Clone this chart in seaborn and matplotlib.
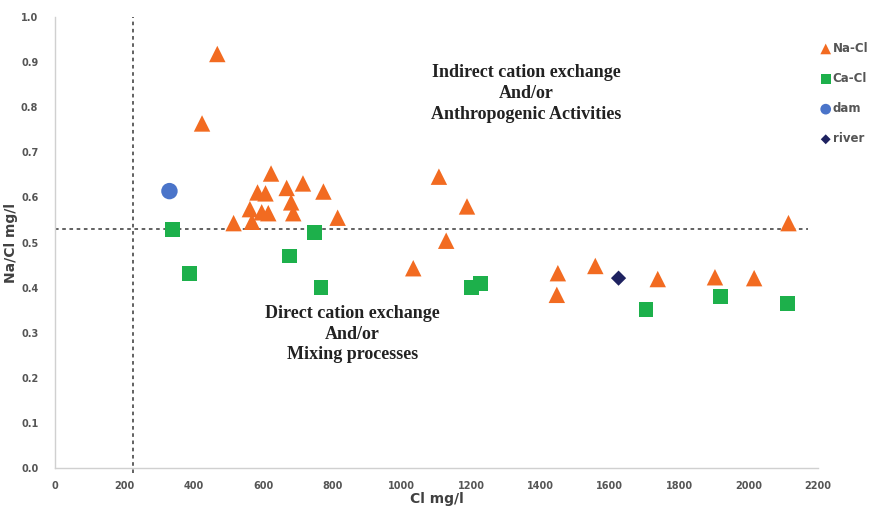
import matplotlib
matplotlib.use("Agg")
import matplotlib.pyplot as plt
import seaborn as sns
import pandas as pd

# Data
nacl_cl = [468, 424, 623, 584, 607, 668, 715, 774, 681, 562, 596, 615, 687, 815, 515, 568,
           1107, 1188, 1128, 1033, 1450, 1447, 1558, 1738, 1903, 2016, 2115]
nacl_ratio = [0.918, 0.764, 0.653, 0.611, 0.609, 0.621, 0.631, 0.613, 0.589, 0.574, 0.567, 0.565,
              0.565, 0.555, 0.543, 0.546, 0.646, 0.580, 0.504, 0.443, 0.432, 0.384, 0.448,
              0.419, 0.423, 0.421, 0.543]
cacl_cl = [338, 389, 675, 748, 767, 1201, 1227, 1704, 1919, 2112]
cacl_ratio = [0.529, 0.432, 0.470, 0.523, 0.400, 0.401, 0.410, 0.352, 0.381, 0.365]
dam_cl = [330]
dam_ratio = [0.614]
river_cl = [1625]
river_ratio = [0.421]

series_names = ["Na-Cl", "Ca-Cl", "dam", "river"]
x_ticks = [0, 200, 400, 600, 800, 1000, 1200, 1400, 1600, 1800, 2000, 2200]
y_ticks = [0.0, 0.1, 0.2, 0.3, 0.4, 0.5, 0.6, 0.7, 0.8, 0.9, 1.0]
cl_threshold = 225
ratio_threshold = 0.53

df = pd.concat([
    pd.DataFrame({"Cl": nacl_cl, "ratio": nacl_ratio, "type": series_names[0]}),
    pd.DataFrame({"Cl": cacl_cl, "ratio": cacl_ratio, "type": series_names[1]}),
    pd.DataFrame({"Cl": dam_cl, "ratio": dam_ratio, "type": series_names[2]}),
    pd.DataFrame({"Cl": river_cl, "ratio": river_ratio, "type": series_names[3]}),
], ignore_index=True)

sns.set_style("white")
fig = plt.figure(figsize=(8.8, 5.11), dpi=100)
ax = fig.add_axes([0.0625, 0.0841, 0.867, 0.8826])

palette = {"Na-Cl": "#F26B21", "Ca-Cl": "#1DB04B", "dam": "#4A74C9", "river": "#1E2260"}
markers = {"Na-Cl": "^", "Ca-Cl": "s", "dam": "o", "river": "D"}
sizes = {"Na-Cl": 140, "Ca-Cl": 115, "dam": 140, "river": 60}

for name in series_names:
    sub = df[df["type"] == name]
    sns.scatterplot(data=sub, x="Cl", y="ratio", ax=ax, color=palette[name],
                    marker=markers[name], s=sizes[name], edgecolor="none",
                    label=name, zorder=3)

ax.axvline(cl_threshold, ymin=-0.01, ymax=1.0, color="#555555", linestyle=(0, (2, 2)),
           linewidth=1.3, clip_on=False, zorder=2)
ax.plot([0, 2170], [ratio_threshold, ratio_threshold], color="#555555",
        linestyle=(0, (2, 2)), linewidth=1.3, zorder=2)

ax.set_xlim(0, 2200)
ax.set_ylim(0, 1.0)
ax.set_xticks(x_ticks)
ax.set_xticklabels([str(t) for t in x_ticks])
ax.set_yticks(y_ticks)
ax.set_yticklabels([f"{t:.1f}" for t in y_ticks])
ax.tick_params(axis="x", length=0, labelsize=7, labelcolor="#555555", pad=9)
ax.tick_params(axis="y", length=0, labelsize=7, labelcolor="#555555", pad=12)
for lab in ax.get_xticklabels() + ax.get_yticklabels():
    lab.set_fontweight("bold")

for s in ["top", "right"]:
    ax.spines[s].set_visible(False)
for s in ["left", "bottom"]:
    ax.spines[s].set_color("#D0D0D0")
    ax.spines[s].set_linewidth(1.0)

ax.set_xlabel("Cl mg/l", fontsize=10, fontweight="bold", color="#404040", labelpad=1)
ax.set_ylabel("Na/Cl mg/l", fontsize=10, fontweight="bold", color="#404040", labelpad=2)

ax.text(1360, 0.831, "Indirect cation exchange\nAnd/or\nAnthropogenic Activities",
        ha="center", va="center", fontsize=13, fontweight="bold",
        family="Liberation Serif", color="#222222", linespacing=1.3)
ax.text(857, 0.297, "Direct cation exchange\nAnd/or\nMixing processes",
        ha="center", va="center", fontsize=13, fontweight="bold",
        family="Liberation Serif", color="#222222", linespacing=1.3)

leg = ax.legend(loc="upper left", bbox_to_anchor=(0.997, 0.955), frameon=False,
                fontsize=8.5, handletextpad=0.15, labelspacing=1.45, markerscale=0.65,
                handlelength=0.9, borderaxespad=0)
for t in leg.get_texts():
    t.set_fontweight("bold")
    t.set_color("#555555")

fig.savefig("out.png", dpi=100)
